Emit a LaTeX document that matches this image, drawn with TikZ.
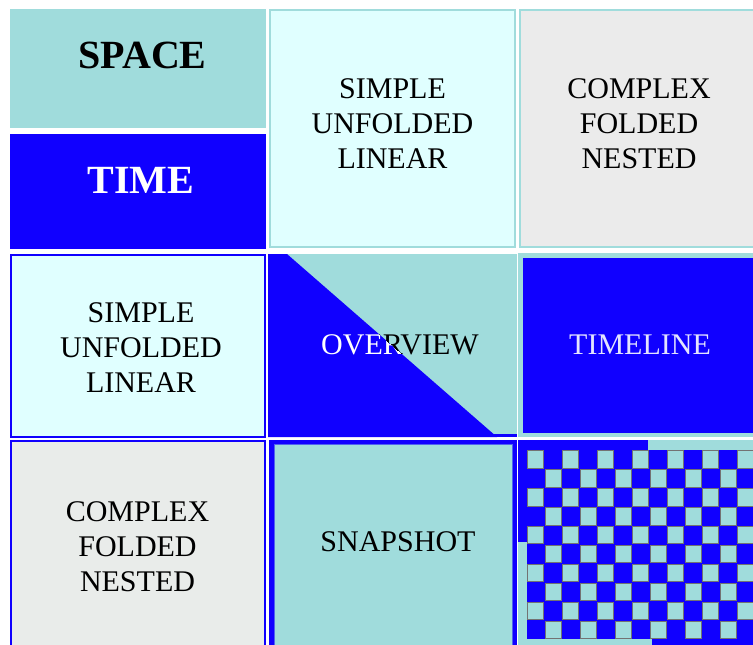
\documentclass[tikz,border=0pt]{standalone}
\usepackage{fontspec}
\setmainfont{Liberation Serif}
\usetikzlibrary{calc}
\definecolor{themeteal}{RGB}{160,220,220}
\definecolor{themeblue}{RGB}{16,0,255}
\definecolor{themecyan}{RGB}{224,255,255}
\definecolor{themegray}{RGB}{235,235,235}
\definecolor{themegrey}{RGB}{233,236,234}
\definecolor{themelilac}{RGB}{228,228,255}

\begin{document}
\begin{tikzpicture}[x=0.5pt,y=-0.5pt]
  %%Create a style for the cells and labels we are using
  \tikzset{head label/.style={font=\fontsize{20}{22}\selectfont\bfseries}}
  \tikzset{cell label/.style={align=center,font=\fontsize{15}{17.5}\selectfont}}
  \tikzset{teal frame/.style={draw=themeteal,line width=1pt}}
  \tikzset{blue frame/.style={draw=themeblue,line width=1pt}}
  \tikzset{check square/.style={fill=themeteal,draw=black!55,line width=0.4pt}}
  \useasboundingbox (0,0) rectangle (753,644);
  \clip (0,0) rectangle (753,644);
  \fill[white] (0,0) rectangle (753,644);
  %%First row: the two headings and the two top cells
  \fill[themeteal] (10,9) rectangle (266,128);
  \fill[themeblue] (10,134) rectangle (266,249);
  \path[teal frame,fill=themecyan] (270,10) rectangle (515,247);
  \path[teal frame,fill=themegray] (520,10) rectangle (770,247);
  %%Second row
  \path[blue frame,fill=themecyan] (11,255) rectangle (265,437);
  \fill[themeteal] (268,254) rectangle (517,437);
  \fill[themeblue] (268,254) -- (287,254) -- (497,437) -- (268,437) -- cycle;
  \fill[themeblue] (268,434) rectangle (517,437);
  \fill[themeteal] (518,253) rectangle (760,437);
  \fill[themeblue] (523,258) rectangle (760,433);
  %%Third row
  \path[blue frame,fill=themegrey] (11,441) rectangle (265,660);
  \fill[themeblue] (269,440) rectangle (517,660);
  \path[fill=themeteal,draw=themeblue!55!themeteal,line width=0.5pt] (274,444) rectangle (512,660);
  \fill[themeteal] (518,440) rectangle (760,660);
  \fill[themeblue] (518,440) rectangle (648,542);
  \fill[themeblue] (652,639) rectangle (760,660);
  %%The chequered timeline-and-snapshot cell
  \fill[themeblue] (527,450) rectangle (760,639);
  \foreach \i in {0,...,12}{
    \foreach \j in {0,...,9}{
      \pgfmathtruncatemacro{\parity}{mod(\i+\j,2)}
      \ifnum\parity=0
        \path[check square] (527.8+17.5*\i,450.8+18.9*\j) rectangle ++(16,17.4);
      \fi
    }
  }
  %%Place the labels using the foreach construct
  \node[head label] (nspace) at (142.5,55) {SPACE};
  \node[head label,text=white] (ntime) at (141,180) {TIME};
  \foreach \x/\y/\in/\txt in {392.5/123.5/simpletop/{SIMPLE\\UNFOLDED\\LINEAR},
      639/123.5/complextop/{COMPLEX\\FOLDED\\NESTED},
      141/348/simpleleft/{SIMPLE\\UNFOLDED\\LINEAR},
      137.5/547/complexleft/{COMPLEX\\FOLDED\\NESTED},
      398/542/snapshot/{SNAPSHOT}}{
    \node[cell label] (n\in) at (\x,\y) {\txt};
  }
  \node[cell label,text=themelilac] (ntimeline) at (640,345) {TIMELINE};
  %%The overview label changes colour across the diagonal
  \begin{scope}
    \clip (268,254) -- (287,254) -- (497,437) -- (268,437) -- cycle;
    \node[cell label,text=white] (noverviewlight) at (400,345) {OVERVIEW};
  \end{scope}
  \begin{scope}
    \clip (287,254) -- (517,254) -- (517,437) -- (497,437) -- cycle;
    \node[cell label] (noverview) at (400,345) {OVERVIEW};
  \end{scope}
\end{tikzpicture}
\end{document}
